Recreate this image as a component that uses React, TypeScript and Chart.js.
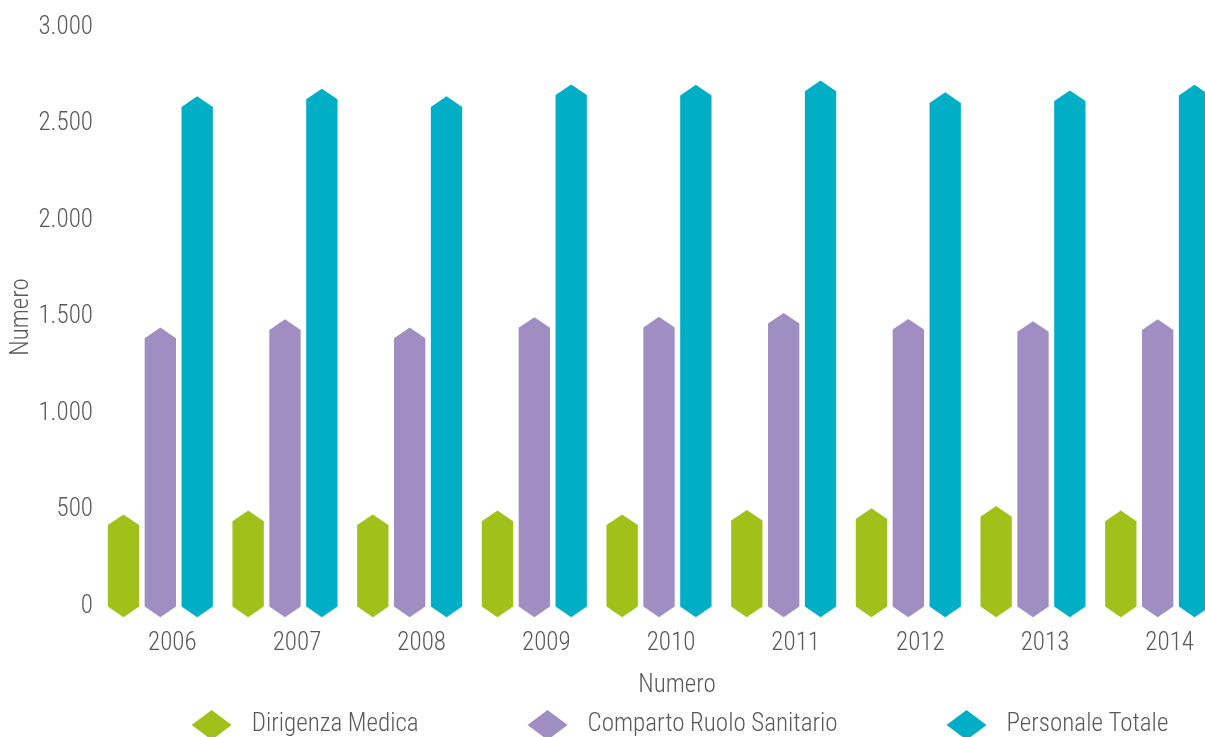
import React, { useEffect, useRef } from "react";
import { Chart, registerables } from "chart.js";

Chart.register(...registerables);

// ---- Data ----
const categories = ["2006", "2007", "2008", "2009", "2010", "2011", "2012", "2013", "2014"];
const dirigenzaMedica = [422, 442, 422, 442, 422, 445, 454, 465, 442];
const compartoRuoloSanitario = [1390, 1433, 1390, 1444, 1446, 1466, 1435, 1423, 1433];
const personaleTotale = [2588, 2628, 2588, 2650, 2648, 2670, 2609, 2619, 2648];
const seriesNames = ["Dirigenza Medica", "Comparto Ruolo Sanitario", "Personale Totale"];
const seriesColors = ["#A1C01A", "#A08EC2", "#00AEC6"];
const axisTitle = "Numero";
const yMin = 0;
const yMax = 3000;
const yStep = 500;

const FAMILY = "Roboto, 'Noto Sans', sans-serif";
const WEIGHT = "300 condensed";
const TEXT = "#595959";
const FONT_SIZE = 25;

const formatIt = (v: number) => String(v).replace(/\B(?=(\d{3})+(?!\d))/g, ".");

const chevronBars = {
  id: "chevronBars",
  beforeDatasetDraw(chart: any, args: any) {
    const { ctx } = chart;
    const ds = chart.data.datasets[args.index];
    ctx.save();
    ctx.fillStyle = ds.backgroundColor;
    for (const el of args.meta.data) {
      const p = el.getProps(["x", "y", "base", "width"], true);
      const hw = p.width / 2;
      const tip = p.width * 0.34;
      ctx.beginPath();
      ctx.moveTo(p.x - hw, p.y);
      ctx.lineTo(p.x, p.y - tip);
      ctx.lineTo(p.x + hw, p.y);
      ctx.lineTo(p.x + hw, p.base);
      ctx.lineTo(p.x, p.base + tip);
      ctx.lineTo(p.x - hw, p.base);
      ctx.closePath();
      ctx.fill();
    }
    ctx.restore();
    return false;
  },
};

const bottomLegend = {
  id: "bottomLegend",
  afterDraw(chart: any) {
    const { ctx, chartArea } = chart;
    const cx = (chartArea.left + chartArea.right) / 2;
    ctx.save();
    ctx.font = `${WEIGHT} ${FONT_SIZE}px ${FAMILY}`;
    ctx.fillStyle = TEXT;
    ctx.textBaseline = "middle";
    ctx.textAlign = "center";
    ctx.fillText(axisTitle, cx + 18, chartArea.bottom + 79);

    const y = chartArea.bottom + 118.5;
    const mw = 40;
    const mh = 30;
    const gap = 20;
    const spacing = 109;
    const items = chart.data.datasets.map((d: any) => ({
      text: d.label,
      color: d.backgroundColor,
      w: ctx.measureText(d.label).width,
    }));
    const total =
      items.reduce((s: number, it: any) => s + mw + gap + it.w, 0) + spacing * (items.length - 1);
    let x = cx + 21 - total / 2;
    ctx.textAlign = "left";
    for (const it of items) {
      ctx.fillStyle = it.color;
      ctx.beginPath();
      ctx.moveTo(x, y);
      ctx.lineTo(x + mw / 2, y - mh / 2);
      ctx.lineTo(x + mw, y);
      ctx.lineTo(x + mw / 2, y + mh / 2);
      ctx.closePath();
      ctx.fill();
      ctx.fillStyle = TEXT;
      ctx.fillText(it.text, x + mw + gap, y);
      x += mw + gap + it.w + spacing;
    }
    ctx.restore();
  },
};

export default function App() {
  const ref = useRef<HTMLCanvasElement | null>(null);

  useEffect(() => {
    if (!ref.current) return;
    const font = { family: FAMILY, size: FONT_SIZE, weight: WEIGHT as any };
    const chart = new Chart(ref.current, {
      type: "bar",
      data: {
        labels: categories,
        datasets: [
          { label: seriesNames[0], data: dirigenzaMedica, backgroundColor: seriesColors[0] },
          { label: seriesNames[1], data: compartoRuoloSanitario, backgroundColor: seriesColors[1] },
          { label: seriesNames[2], data: personaleTotale, backgroundColor: seriesColors[2] },
        ],
      },
      options: {
        responsive: false,
        animation: false,
        devicePixelRatio: 1,
        datasets: { bar: { categoryPercentage: 0.887, barPercentage: 0.85 } },
        layout: { padding: { top: 27.5, left: 0, right: 2, bottom: 88.5 } },
        plugins: { legend: { display: false }, tooltip: { enabled: false } },
        scales: {
          x: {
            grid: { display: false, drawTicks: false },
            border: { display: false },
            ticks: { font, color: TEXT, padding: 22, labelOffset: 12, maxRotation: 0 },
            afterFit: (s: any) => {
              s.height = 50;
            },
          },
          y: {
            min: yMin,
            max: yMax,
            grid: { display: false, drawTicks: false },
            border: { display: false },
            ticks: {
              stepSize: yStep,
              padding: 5,
              font,
              color: TEXT,
              callback: (v: any) => formatIt(Number(v)),
            },
            title: {
              display: true,
              text: axisTitle,
              font,
              color: TEXT,
              padding: { top: 7, bottom: 0 },
            },
            afterFit: (s: any) => {
              s.width = 98;
            },
          },
        },
      },
      plugins: [chevronBars, bottomLegend],
    });
    return () => chart.destroy();
  }, []);

  return (
    <div
      style={{
        position: "fixed",
        left: 0,
        top: 0,
        width: 1205,
        height: 737,
        overflow: "hidden",
        background: "#ffffff",
      }}
    >
      <canvas ref={ref} width={1222} height={745} style={{ display: "block" }} />
    </div>
  );
}
